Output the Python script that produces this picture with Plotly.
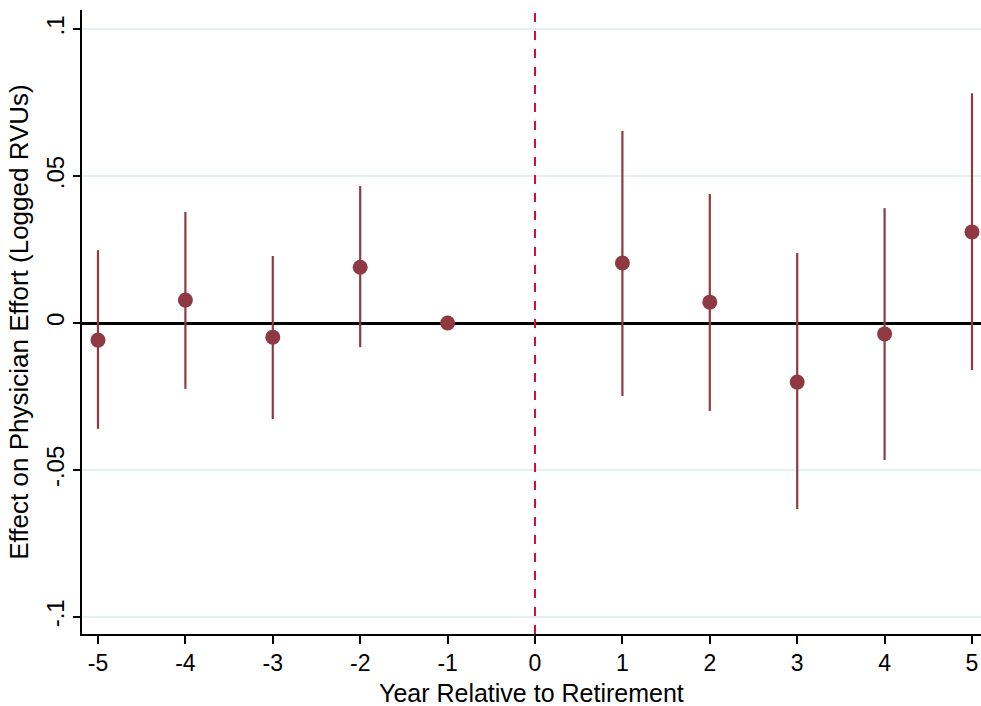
import plotly.graph_objects as go

years = [-5, -4, -3, -2, -1, 1, 2, 3, 4, 5]
estimates = [-0.0058, 0.0078, -0.0048, 0.0190, 0.0, 0.0204, 0.0071, -0.0201, -0.0037, 0.0310]
ci_upper = [0.0248, 0.0378, 0.0228, 0.0466, 0.0, 0.0653, 0.0439, 0.0238, 0.0391, 0.0782]
ci_lower = [-0.0360, -0.0224, -0.0327, -0.0082, 0.0, -0.0248, -0.0299, -0.0633, -0.0466, -0.0160]

ytick_vals = [-0.1, -0.05, 0, 0.05, 0.1]
ytick_text = ["-.1", "-.05", "0", ".05", ".1"]
xtick_vals = [-5, -4, -3, -2, -1, 0, 1, 2, 3, 4, 5]
xtick_text = ["-5", "-4", "-3", "-2", "-1", "0", "1", "2", "3", "4", "5"]
x_title = "Year Relative to Retirement"
y_title = "Effect on Physician Effort (Logged RVUs)"

err_plus = [u - e for u, e in zip(ci_upper, estimates)]
err_minus = [e - l for e, l in zip(estimates, ci_lower)]

color = "#8f3a43"

fig = go.Figure()
fig.add_trace(go.Scatter(
    x=years, y=estimates, mode="markers",
    marker=dict(color=color, size=15),
    error_y=dict(type="data", array=err_plus, arrayminus=err_minus,
                 color=color, thickness=2.2, width=0, symmetric=False),
    showlegend=False, cliponaxis=False,
))

fig.add_vline(x=0, line=dict(color="#d0103a", width=2, dash="dash"))

fig.add_annotation(text=x_title, xref="paper", yref="paper", x=0.5, y=0,
                   xanchor="center", yanchor="bottom", yshift=-75,
                   showarrow=False, font=dict(size=25))

font_family = "Liberation Sans, Arial, sans-serif"
fig.update_layout(
    width=981, height=706,
    margin=dict(l=82, r=0, t=10, b=72, pad=0),
    plot_bgcolor="white", paper_bgcolor="white",
    font=dict(family=font_family, size=23, color="black"),
    xaxis=dict(
        range=[-5.183, 5.103], tickvals=xtick_vals, ticktext=xtick_text,
        showgrid=False, zeroline=False,
        showline=True, linecolor="black", linewidth=1.5,
        ticks="outside", ticklen=8, tickwidth=1.5, tickcolor="black",
        tickfont=dict(size=23),
    ),
    yaxis=dict(
        range=[-0.1058, 0.1065], tickvals=ytick_vals, ticktext=ytick_text,
        tickangle=-90,
        showgrid=True, gridcolor="#e6eff1", gridwidth=1.5,
        zeroline=True, zerolinecolor="black", zerolinewidth=2.5,
        showline=True, linecolor="black", linewidth=1.5,
        ticks="outside", ticklen=7, tickwidth=1.5, tickcolor="black",
        title=dict(text=y_title, standoff=6, font=dict(size=26)),
        tickfont=dict(size=24),
    ),
)

fig.write_html("out.html", config={"displayModeBar": False},
               post_script="document.body.style.margin='0';document.body.style.overflow='hidden';")
